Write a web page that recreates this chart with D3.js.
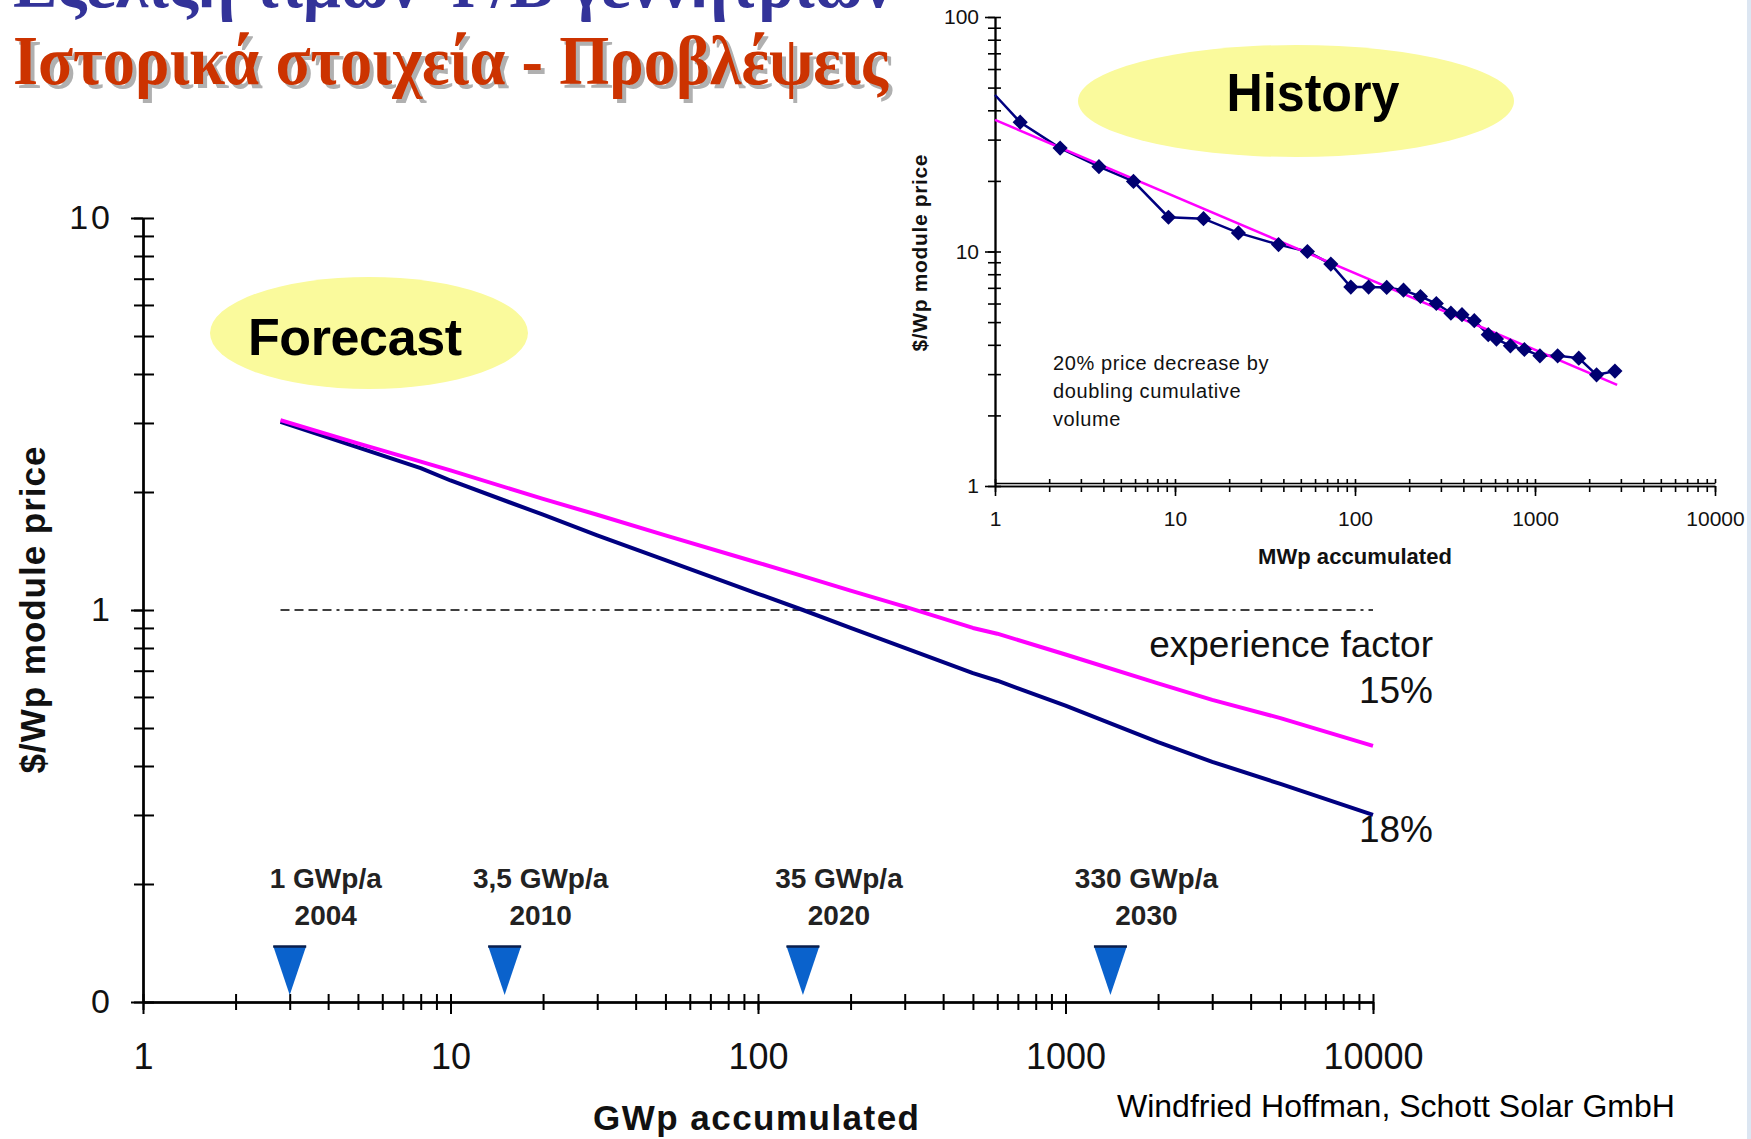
<!DOCTYPE html>
<html>
<meta charset="utf-8">
<style>
    body {
        margin: 0;
        background: #fff;
    }

    svg text {
        font-family: "Liberation Sans", Arial, sans-serif;
    }

    .axis path,
    .axis line {
        fill: none;
        stroke: #000;
        stroke-width: 2px;
    }

    .inset .axis path,
    .inset .axis line {
        stroke-width: 1.6px;
    }

    .title {
        font-family: "Liberation Serif", "DejaVu Serif", serif !important;
        font-weight: bold;
    }
</style>

<body>
    <script src="https://d3js.org/d3.v7.min.js"></script>
    <script>
        // ---- main forecast chart (GWp accumulated vs $/Wp) ----
        var forecastGWp = [2.8, 5, 8, 10, 20, 30, 50, 100, 140, 200, 300, 500, 600, 1000, 2000, 3000, 5000, 10000];
        var price15 = [3.05, 2.66, 2.39, 2.27, 1.92, 1.75, 1.55, 1.32, 1.22, 1.12, 1.02, 0.90, 0.87, 0.77, 0.65, 0.59, 0.53, 0.45];
        var price18 = [3.02, 2.60, 2.30, 2.14, 1.75, 1.55, 1.34, 1.10, 1.00, 0.90, 0.80, 0.69, 0.66, 0.57, 0.46, 0.41, 0.36, 0.30];

        var refGWp = [2.8, 10000];
        var refPrice = [1, 1];

        var markerGWp = [3, 15, 140, 1400];
        var markerCapacity = ["1 GWp/a", "3,5 GWp/a", "35 GWp/a", "330 GWp/a"];
        var markerYear = ["2004", "2010", "2020", "2030"];

        var mainXTicks = [1, 10, 100, 1000, 10000];
        var mainXLabels = ["1", "10", "100", "1000", "10000"];
        var mainYTicks = [0.1, 1, 10];
        var mainYLabels = ["0", "1", "10"];

        // ---- inset history chart (MWp accumulated vs $/Wp) ----
        var historyMWp = [1, 1.38, 2.3, 3.78, 5.88, 9.2, 14.4, 22.5, 37.6, 54.4, 73.4, 94.8, 119, 150, 186, 231, 283, 341, 393, 460, 550, 611, 730, 873, 1065, 1336, 1751, 2198, 2780];
        var historyPrice = [46.5, 35.6, 27.6, 23.0, 19.9, 14.0, 13.8, 12.0, 10.7, 10.0, 8.84, 7.05, 7.05, 7.03, 6.84, 6.43, 6.0, 5.46, 5.38, 5.07, 4.42, 4.23, 3.96, 3.82, 3.59, 3.59, 3.51, 2.98, 3.09];
        var trendMWp = [1, 2860];
        var trendPrice = [36.4, 2.70];

        var insetXTicks = [1, 10, 100, 1000, 10000];
        var insetXLabels = ["1", "10", "100", "1000", "10000"];
        var insetYTicks = [1, 10, 100];
        var insetYLabels = ["1", "10", "100"];

        var svg = d3.select("body").append("svg")
            .attr("width", 1751)
            .attr("height", 1139);

        // slide edge
        svg.append("rect").attr("x", 1747).attr("y", 0).attr("width", 4).attr("height", 1139).attr("fill", "#dce6f2");

        // ---- slide title ----
        svg.append("text").attr("class", "title")
            .attr("x", 13).attr("y", 7)
            .attr("font-size", 70)
            .attr("textLength", 880).attr("lengthAdjust", "spacingAndGlyphs")
            .attr("fill", "#333399")
            .text("Εξέλιξη τιμών Φ/Β γεννητριών");

        svg.append("text").attr("class", "title")
            .attr("x", 17).attr("y", 88)
            .attr("font-size", 70)
            .attr("textLength", 875).attr("lengthAdjust", "spacingAndGlyphs")
            .attr("fill", "#b0b0b0")
            .text("Ιστορικά στοιχεία - Προβλέψεις");
        svg.append("text").attr("class", "title")
            .attr("x", 13).attr("y", 84)
            .attr("font-size", 70)
            .attr("textLength", 875).attr("lengthAdjust", "spacingAndGlyphs")
            .attr("fill", "#cc3300")
            .text("Ιστορικά στοιχεία - Προβλέψεις");

        // ======== main chart ========
        var x = d3.scaleLog().domain([1, 10000]).range([143, 1373]);
        var y = d3.scaleLog().domain([0.1, 10]).range([1002, 218]);

        var main = svg.append("g");

        main.append("ellipse")
            .attr("cx", 369).attr("cy", 333).attr("rx", 159).attr("ry", 56)
            .attr("fill", "#fafa9c");
        main.append("text")
            .attr("x", 248).attr("y", 355)
            .attr("font-size", 52).attr("font-weight", "bold")
            .attr("textLength", 214)
            .attr("fill", "#000")
            .text("Forecast");

        // x axis: minor ticks cross the line, decade ticks hang lower
        main.append("g").attr("class", "axis").attr("transform", "translate(0,1002)")
            .call(d3.axisBottom(x).tickValues(x.ticks()).tickSize(8).tickSizeOuter(0).tickFormat(""));
        main.append("g").attr("class", "axis").attr("transform", "translate(0,1002)")
            .call(d3.axisBottom(x).tickValues(x.ticks()).tickSize(-8).tickSizeOuter(0).tickFormat(""));
        main.append("g").attr("class", "axis").attr("transform", "translate(0,1002)")
            .call(d3.axisBottom(x).tickValues(mainXTicks).tickSize(12).tickSizeOuter(0).tickPadding(29)
                .tickFormat(function (d, i) { return mainXLabels[i]; }))
            .attr("font-size", 36).attr("font-family", "Liberation Sans, Arial, sans-serif")
            .selectAll("text").attr("fill", "#111");

        // y axis
        main.append("g").attr("class", "axis").attr("transform", "translate(143,0)")
            .call(d3.axisLeft(y).tickValues(y.ticks()).tickSize(9).tickSizeOuter(0).tickFormat(""));
        main.append("g").attr("class", "axis").attr("transform", "translate(143,0)")
            .call(d3.axisLeft(y).tickValues(y.ticks()).tickSize(-11).tickSizeOuter(0).tickFormat(""));
        main.append("g").attr("class", "axis").attr("transform", "translate(143,0)")
            .call(d3.axisLeft(y).tickValues(mainYTicks).tickSize(12).tickSizeOuter(0).tickPadding(18)
                .tickFormat(function (d, i) { return mainYLabels[i]; }))
            .attr("font-size", 34).attr("font-family", "Liberation Sans, Arial, sans-serif")
            .selectAll("text").attr("fill", "#111").attr("letter-spacing", 3);

        main.append("text")
            .attr("x", 756).attr("y", 1130)
            .attr("text-anchor", "middle")
            .attr("font-size", 35).attr("font-weight", "bold")
            .attr("textLength", 326)
            .attr("fill", "#111")
            .text("GWp accumulated");
        main.append("text")
            .attr("transform", "translate(45,610) rotate(-90)")
            .attr("text-anchor", "middle")
            .attr("font-size", 35).attr("font-weight", "bold")
            .attr("textLength", 327)
            .attr("fill", "#111")
            .text("$/Wp module price");

        // reference line at 1 $/Wp
        var refLine = d3.line()
            .x(function (d) { return x(d[0]); })
            .y(function (d) { return y(d[1]); });
        main.append("path")
            .datum(d3.zip(refGWp, refPrice))
            .attr("d", refLine)
            .attr("fill", "none")
            .attr("stroke", "#000")
            .attr("stroke-width", 1.5)
            .attr("stroke-dasharray", "9,5,9,5,9,5,9,5,3,5");

        var forecastLine = d3.line()
            .x(function (d) { return x(d[0]); })
            .y(function (d) { return y(d[1]); });
        main.append("path")
            .datum(d3.zip(forecastGWp, price18))
            .attr("d", forecastLine)
            .attr("fill", "none")
            .attr("stroke", "#000080")
            .attr("stroke-width", 4)
            .attr("stroke-linejoin", "round");
        main.append("path")
            .datum(d3.zip(forecastGWp, price15))
            .attr("d", forecastLine)
            .attr("fill", "none")
            .attr("stroke", "#ff00ff")
            .attr("stroke-width", 4)
            .attr("stroke-linejoin", "round");

        main.append("text")
            .attr("x", 1433).attr("y", 657)
            .attr("text-anchor", "end")
            .attr("font-size", 37)
            .attr("fill", "#111")
            .text("experience factor");
        main.append("text")
            .attr("x", 1433).attr("y", 703)
            .attr("text-anchor", "end")
            .attr("font-size", 37)
            .attr("fill", "#111")
            .text("15%");
        main.append("text")
            .attr("x", 1433).attr("y", 842)
            .attr("text-anchor", "end")
            .attr("font-size", 37)
            .attr("fill", "#111")
            .text("18%");

        // production milestones
        var markers = main.selectAll(".marker")
            .data(d3.range(markerGWp.length))
            .enter().append("g")
            .attr("class", "marker")
            .attr("transform", function (i) { return "translate(" + x(markerGWp[i]) + ",0)"; });

        markers.append("path")
            .attr("d", "M-16.5,946 L16.5,946 L0,995 Z")
            .attr("fill", "#0a62cc");
        markers.append("line")
            .attr("x1", -16.5).attr("x2", 16.5)
            .attr("y1", 946.5).attr("y2", 946.5)
            .attr("stroke", "#0a1f4d")
            .attr("stroke-width", 2.5);
        markers.append("text")
            .attr("x", 36).attr("y", 888)
            .attr("text-anchor", "middle")
            .attr("font-size", 28).attr("font-weight", "bold")
            .attr("fill", "#222")
            .text(function (i) { return markerCapacity[i]; });
        markers.append("text")
            .attr("x", 36).attr("y", 925)
            .attr("text-anchor", "middle")
            .attr("font-size", 28).attr("font-weight", "bold")
            .attr("fill", "#222")
            .text(function (i) { return markerYear[i]; });

        svg.append("text")
            .attr("x", 1117).attr("y", 1117)
            .attr("font-size", 32)
            .attr("fill", "#000")
            .text("Windfried Hoffman, Schott Solar GmbH");

        // ======== inset: history ========
        var xi = d3.scaleLog().domain([1, 10000]).range([995, 1715]);
        var yi = d3.scaleLog().domain([1, 100]).range([486, 17]);

        var inset = svg.append("g").attr("class", "inset");

        inset.append("ellipse")
            .attr("cx", 1296).attr("cy", 101).attr("rx", 218).attr("ry", 56)
            .attr("fill", "#fafa9c");
        inset.append("text")
            .attr("x", 1313).attr("y", 111)
            .attr("text-anchor", "middle")
            .attr("font-size", 54).attr("font-weight", "bold")
            .attr("textLength", 173).attr("lengthAdjust", "spacingAndGlyphs")
            .attr("fill", "#000")
            .text("History");

        inset.append("g").attr("class", "axis").attr("transform", "translate(0,486)")
            .call(d3.axisBottom(xi).tickValues(xi.ticks()).tickSize(6).tickSizeOuter(0).tickFormat(""));
        inset.append("g").attr("class", "axis").attr("transform", "translate(0,483)")
            .call(d3.axisBottom(xi).tickValues(xi.ticks()).tickSize(-4).tickSizeOuter(0).tickFormat(""));
        inset.append("g").attr("class", "axis").attr("transform", "translate(0,486)")
            .call(d3.axisBottom(xi).tickValues(insetXTicks).tickSize(10).tickSizeOuter(0).tickPadding(15)
                .tickFormat(function (d, i) { return insetXLabels[i]; }))
            .attr("font-size", 21).attr("font-family", "Liberation Sans, Arial, sans-serif")
            .selectAll("text").attr("fill", "#111");

        inset.append("g").attr("class", "axis").attr("transform", "translate(995,0)")
            .call(d3.axisLeft(yi).tickValues(yi.ticks()).tickSize(7).tickSizeOuter(0).tickFormat(""));
        inset.append("g").attr("class", "axis").attr("transform", "translate(995,0)")
            .call(d3.axisLeft(yi).tickValues(yi.ticks()).tickSize(-6).tickSizeOuter(0).tickFormat(""));
        inset.append("g").attr("class", "axis").attr("transform", "translate(995,0)")
            .call(d3.axisLeft(yi).tickValues(insetYTicks).tickSize(10).tickSizeOuter(0).tickPadding(6)
                .tickFormat(function (d, i) { return insetYLabels[i]; }))
            .attr("font-size", 21).attr("font-family", "Liberation Sans, Arial, sans-serif")
            .selectAll("text").attr("fill", "#111");

        inset.append("text")
            .attr("x", 1355).attr("y", 564)
            .attr("text-anchor", "middle")
            .attr("font-size", 22).attr("font-weight", "bold")
            .attr("textLength", 194)
            .attr("fill", "#111")
            .text("MWp accumulated");
        inset.append("text")
            .attr("transform", "translate(927,253) rotate(-90)")
            .attr("text-anchor", "middle")
            .attr("font-size", 21).attr("font-weight", "bold")
            .attr("textLength", 197)
            .attr("fill", "#111")
            .text("$/Wp module price");

        var noteLines = ["20% price decrease by", "doubling cumulative", "volume"];
        inset.selectAll(".note")
            .data(noteLines)
            .enter().append("text")
            .attr("class", "note")
            .attr("x", 1053)
            .attr("y", function (d, i) { return 370 + i * 28; })
            .attr("font-size", 20)
            .attr("letter-spacing", 0.6)
            .attr("fill", "#111")
            .text(function (d) { return d; });

        var insetLine = d3.line()
            .x(function (d) { return xi(d[0]); })
            .y(function (d) { return yi(d[1]); });

        var historyPts = d3.zip(historyMWp, historyPrice);
        inset.append("path")
            .datum(historyPts)
            .attr("d", insetLine)
            .attr("fill", "none")
            .attr("stroke", "#000080")
            .attr("stroke-width", 2.5);
        inset.append("path")
            .datum(d3.zip(trendMWp, trendPrice))
            .attr("d", insetLine)
            .attr("fill", "none")
            .attr("stroke", "#ff00ff")
            .attr("stroke-width", 2.5);

        // first point sits on the axis and has no marker
        inset.selectAll(".pt")
            .data(historyPts.slice(1))
            .enter().append("path")
            .attr("class", "pt")
            .attr("d", d3.symbol().type(d3.symbolSquare).size(115))
            .attr("transform", function (d) { return "translate(" + xi(d[0]) + "," + yi(d[1]) + ") rotate(45)"; })
            .attr("fill", "#000070");
    </script>
</body>

</html>
